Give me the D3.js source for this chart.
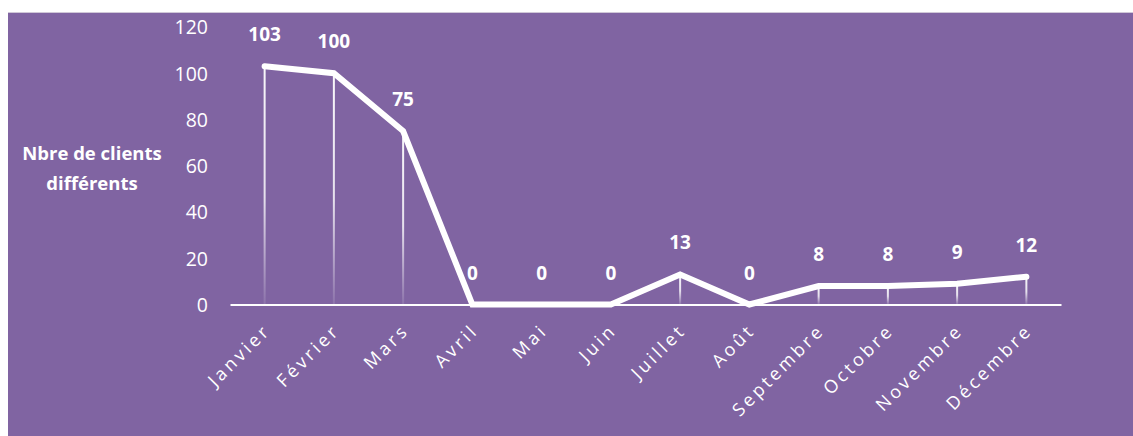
<!DOCTYPE html>
<html><head><meta charset="utf-8">
<script src="https://cdn.jsdelivr.net/npm/d3@7"></script>
<style>body{margin:0;background:#fff}svg{display:block}</style>
</head><body>
<svg id="c" width="1133" height="436"></svg>
<script>
const months = ["Janvier","Février","Mars","Avril","Mai","Juin","Juillet","Août","Septembre","Octobre","Novembre","Décembre"];
const values = [103,100,75,0,0,0,13,0,8,8,9,12];
const yTicks = [0,20,40,60,80,100,120];
const yTitle = ["Nbre de clients","différents"];

const svg = d3.select("#c");
const bg = "#8064A2";
svg.append("rect").attr("x",8).attr("y",12).attr("width",1125).attr("height",424).attr("fill",bg);
svg.append("line").attr("x1",8).attr("x2",1133).attr("y1",12.5).attr("y2",12.5).attr("stroke","#d0c8d8").attr("stroke-width",1);

const x = d3.scaleBand().domain(months).range([230,1061]);
const y = d3.scaleLinear().domain([0,120]).range([304.5,27]);
const font = "'Open Sans', sans-serif";

const defs = svg.append("defs");
const g = defs.append("linearGradient").attr("id","fade").attr("x1",0).attr("y1",0).attr("x2",0).attr("y2",1);
g.append("stop").attr("offset","0%").attr("stop-color","#fff").attr("stop-opacity",0.95);
g.append("stop").attr("offset","55%").attr("stop-color","#fff").attr("stop-opacity",0.8);
g.append("stop").attr("offset","100%").attr("stop-color","#fff").attr("stop-opacity",0.1);

const cx = m => x(m) + x.bandwidth()/2;

// y axis labels
const yAxis = d3.axisLeft(y).tickValues(yTicks).tickSize(0).tickPadding(0);
const ya = svg.append("g").attr("transform","translate(208,0)").call(yAxis);
ya.select(".domain").remove();
ya.selectAll("text").attr("fill","#fff").attr("font-family",font).attr("font-size",19.5).attr("dy","0.35em");

// y title
svg.append("text").attr("x",92).attr("y",160).attr("text-anchor","middle")
  .attr("font-family",font).attr("font-weight","bold").attr("font-size",18.5).attr("fill","#fff")
  .selectAll("tspan").data(yTitle).join("tspan").attr("x",92).attr("dy",(d,i)=>i?30:0).text(d=>d);

// drop lines
svg.append("g").selectAll("rect").data(values.map((v,i)=>({v,m:months[i]})).filter(d=>d.v>0)).join("rect")
  .attr("x",d=>cx(d.m)-1).attr("width",2)
  .attr("y",d=>y(d.v)).attr("height",d=>y(0)-y(d.v))
  .attr("fill","url(#fade)");

// x axis
const xAxis = d3.axisBottom(x).tickSize(0).tickPadding(0);
const xa = svg.append("g").attr("transform",`translate(0,${y(0)})`).call(xAxis);
xa.select(".domain").attr("stroke","#fff").attr("stroke-width",2);
xa.selectAll("text").attr("fill","#fff").attr("font-family",font).attr("font-size",18)
  .attr("letter-spacing","3.2px")
  .attr("text-anchor","end").attr("dy",0).attr("y",0)
  .attr("transform","translate(7,27) rotate(-45)");

// line
const line = d3.line().x((d,i)=>cx(months[i])).y(d=>y(d));
svg.append("path").datum(values).attr("d",line).attr("fill","none").attr("stroke","#fff")
  .attr("stroke-width",6).attr("stroke-linejoin","miter").attr("stroke-linecap","round");

// data labels
svg.append("g").selectAll("text").data(values).join("text")
  .attr("x",(d,i)=>cx(months[i])).attr("y",d=>y(d)-25)
  .attr("text-anchor","middle").attr("font-family",font).attr("font-weight","bold").attr("font-size",19)
  .attr("fill","#fff").text(d=>d);
</script>
</body></html>
